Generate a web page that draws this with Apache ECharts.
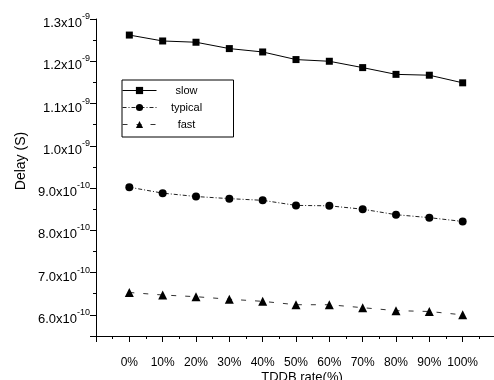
<!DOCTYPE html>
<html>
<head>
<meta charset="utf-8">
<script src="https://cdn.jsdelivr.net/npm/echarts@6/dist/echarts.min.js"></script>
<style>
html,body{margin:0;padding:0;background:#fff;}
#chart{width:494px;height:380px;}
</style>
</head>
<body>
<div id="chart"></div>
<script>
// TDDB rate (%) categories
const tddbRates = [0, 10, 20, 30, 40, 50, 60, 70, 80, 90, 100];
// Delay in seconds
const slowDelay    = [1.262e-9, 1.248e-9, 1.245e-9, 1.230e-9, 1.222e-9, 1.204e-9, 1.200e-9, 1.185e-9, 1.169e-9, 1.167e-9, 1.149e-9];
const typicalDelay = [0.902e-9, 0.888e-9, 0.880e-9, 0.875e-9, 0.871e-9, 0.859e-9, 0.858e-9, 0.850e-9, 0.837e-9, 0.830e-9, 0.821e-9];
const fastDelay    = [0.653e-9, 0.647e-9, 0.643e-9, 0.637e-9, 0.632e-9, 0.624e-9, 0.624e-9, 0.617e-9, 0.610e-9, 0.608e-9, 0.600e-9];
const seriesNames = ['slow', 'typical', 'fast'];
const xAxisTitle = 'TDDB rate(%)';
const yAxisTitle = 'Delay (S)';

const FONT = "'Liberation Sans', Arial, sans-serif";

function pairs(vals) { return tddbRates.map((r, i) => [r, vals[i]]); }

function yLabel(v) {
  const u = v / 1e-10;
  if (Math.abs(u - Math.round(u)) > 1e-6) return '';
  const k = Math.round(u);
  let m, e;
  if (k >= 10) { m = (k / 10).toFixed(1); e = '-9'; }
  else { m = k.toFixed(1); e = '-10'; }
  return '{b|' + m + 'x10}{s|' + e + '}';
}

const chart = echarts.init(document.getElementById('chart'), null, {renderer: 'canvas'});
const option = {
  animation: false,
  backgroundColor: '#fff',
  textStyle: {fontFamily: FONT},
  grid: {left: 96, right: -2, top: 19, bottom: 44, containLabel: false, outerBoundsMode: 'none'},
  legend: {
    data: seriesNames,
    orient: 'vertical',
    left: 122, top: 80,
    padding: [4, 22, 6, 0],
    itemWidth: 34, itemHeight: 9, itemGap: 4,
    borderColor: '#000', borderWidth: 1,
    lineStyle: {width: 1},
    formatter: '{t|{name}}',
    textStyle: {
      color: '#000', fontFamily: FONT, fontSize: 11, lineHeight: 13,
      rich: {t: {width: 50, align: 'center', fontFamily: FONT, fontSize: 11, lineHeight: 13, color: '#000'}}
    }
  },
  xAxis: {
    type: 'value', min: -10, max: 110, interval: 10,
    axisLine: {show: true, onZero: false, lineStyle: {color: '#000', width: 1}},
    axisTick: {show: true, inside: false, length: 6, lineStyle: {color: '#000'}},
    minorTick: {show: true, splitNumber: 2, length: 3, lineStyle: {color: '#000'}},
    splitLine: {show: false},
    axisLabel: {
      margin: 21, color: '#000', fontSize: 12, fontFamily: FONT,
      showMinLabel: true, showMaxLabel: true,
      formatter: v => (v >= 0 && v <= 100) ? v + '%' : ''
    }
  },
  yAxis: [{
    type: 'value', min: 5.5e-10, max: 1.3e-9, splitNumber: 8,
    axisLine: {show: true, onZero: false, lineStyle: {color: '#000', width: 1}},
    axisTick: {show: true, inside: false, length: 6, lineStyle: {color: '#000'}},
    splitLine: {show: false},
    axisLabel: {
      margin: 6, color: '#000', fontFamily: FONT,
      formatter: yLabel,
      padding: [4, 0, 0, 0],
      rich: {
        b: {fontSize: 13, lineHeight: 18, verticalAlign: 'bottom', fontFamily: FONT, color: '#000'},
        s: {fontSize: 9, lineHeight: 10, verticalAlign: 'top', fontFamily: FONT, color: '#000'}
      }
    }
  }, {
    type: 'value', min: 5.5e-10, max: 1.3e-9, interval: 0.5e-10, position: 'left', offset: 0,
    axisLine: {show: false, onZero: false},
    axisTick: {show: true, inside: false, length: 3, lineStyle: {color: '#000'}},
    splitLine: {show: false},
    axisLabel: {show: false}
  }],
  graphic: [
    {type: 'text', x: 302, y: 371, style: {text: xAxisTitle, font: '13px ' + FONT, fill: '#000', textAlign: 'center', textVerticalAlign: 'top'}},
    {type: 'text', x: 21, y: 161, rotation: Math.PI / 2, style: {text: yAxisTitle, font: '14px ' + FONT, fill: '#000', textAlign: 'center', textVerticalAlign: 'middle'}}
  ],
  series: [
    {
      name: seriesNames[0], type: 'line', data: pairs(slowDelay),
      symbol: 'rect', symbolSize: 7, showSymbol: true,
      lineStyle: {color: '#000', width: 1, type: 'solid'},
      itemStyle: {color: '#000'}
    },
    {
      name: seriesNames[1], type: 'line', data: pairs(typicalDelay),
      symbol: 'circle', symbolSize: 8,
      lineStyle: {color: '#222', width: 1, type: [4, 2, 1, 2]},
      itemStyle: {color: '#000'}
    },
    {
      name: seriesNames[2], type: 'line', data: pairs(fastDelay),
      symbol: 'triangle', symbolSize: 9,
      lineStyle: {color: '#333', width: 1, type: [5, 9]},
      itemStyle: {color: '#000'}
    }
  ]
};
chart.setOption(option);
</script>
</body>
</html>
